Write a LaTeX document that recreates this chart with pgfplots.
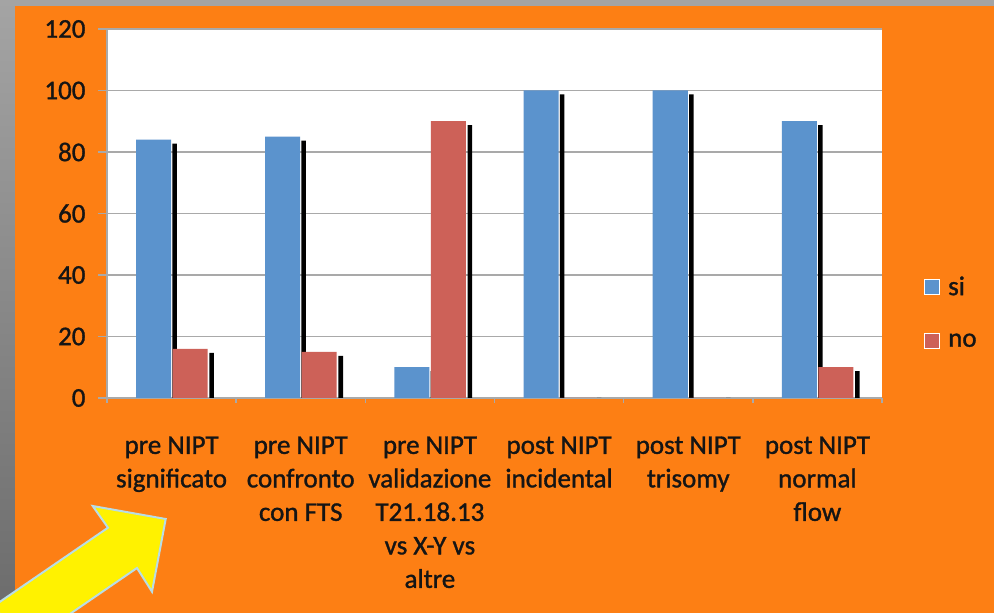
\documentclass[border=0pt]{standalone}
\usepackage{pgfplots}
\pgfplotsset{compat=1.18}
\usepackage{pgfplotstable}
\usepackage{fontspec}
\setmainfont[FakeBold=1.2]{Carlito}

\definecolor{panel}{HTML}{FD7F14}
\definecolor{siblue}{HTML}{5B93CD}
\definecolor{nored}{HTML}{CD6158}
\definecolor{gridgray}{HTML}{A9A9A9}
\definecolor{bgtop}{HTML}{A4A4A4}
\definecolor{bgbottom}{HTML}{6C6C6C}
\definecolor{arrowedge}{HTML}{B8DDE6}
\definecolor{labeltext}{HTML}{151515}

% survey answers (percent), one row per question
\pgfplotstableread{
x si no
0 84 16
1 85 15
2 10 90
3 100 0
4 100 0
5 90 10
}\survey

\begin{document}
\begin{tikzpicture}[x=1pt,y=1pt]
\path[use as bounding box] (0,0) rectangle (994,613);
% slide background
\shade[top color=bgtop, bottom color=bgbottom] (0,0) rectangle (994,613);
\fill[panel] (15,0) rectangle (994,607);
% yellow pointer arrow
\begin{scope}
\clip (0,0) rectangle (994,613);
\filldraw[fill=yellow, draw=arrowedge, line width=2pt, line join=miter]
  (-10,4.4) -- (108,85.3) -- (92.7,107) -- (165.7,94) -- (152,21.3)
  -- (137,45) -- (40,-21.5) -- cycle;
\end{scope}

\begin{axis}[
  at={(107pt,215pt)}, anchor=south west,
  scale only axis, width=775pt, height=369pt,
  xmin=-0.5, xmax=5.5, ymin=0, ymax=120,
  ytick={0,20,...,120},
  xtick={0,...,5},
  minor xtick={-0.5,0.5,...,5.5},
  xticklabels={{pre NIPT\\significato},{pre NIPT\\confronto\\con FTS},
    {pre NIPT\\validazione\\T21.18.13\\vs X-Y vs\\altre},
    {post NIPT\\incidental},{post NIPT\\trisomy},{post NIPT\\normal\\flow}},
  axis lines*=left,
  axis line style={-, gridgray, line width=1.5pt},
  axis background/.style={fill=white},
  ymajorgrids, grid style={gridgray, line width=1.5pt},
  tick align=outside, major tick length=9pt, minor tick length=5pt,
  tick style={gridgray, line width=1.5pt},
  major x tick style={draw=none},
  /pgf/number format/assume math mode=true,
  tick label style={font=\fontsize{27}{33.5}\selectfont, text=labeltext},
  yticklabel style={xshift=-9pt},
  xticklabel style={align=center, anchor=north, yshift=-26pt},
  legend style={at={(1,0.232)}, anchor=west, xshift=39pt, draw=none, fill=none,
    font=\fontsize{27}{33.5}\selectfont, text=labeltext, row sep=33pt,
    /tikz/every odd column/.append style={column sep=6pt}},
  legend cell align=left,
]
% drop shadows behind the bars
\addplot[ybar, bar width=4.5pt, bar shift=3pt, fill=black, draw=none,
  forget plot, y filter/.expression={y-1.3}] table[x=x, y=si]{\survey};
\addplot[ybar, bar width=35pt, bar shift=-18pt, fill=siblue, draw=none,
  legend image code/.code={\filldraw[fill=siblue, draw=white, line width=1pt]
    (0pt,-7.5pt) rectangle (15pt,7.5pt);}] table[x=x, y=si]{\survey};
\addlegendentry{si}
\addplot[ybar, bar width=4.5pt, bar shift=40pt, fill=black, draw=none,
  forget plot, y filter/.expression={y-1.3}] table[x=x, y=no]{\survey};
\addplot[ybar, bar width=35pt, bar shift=18.5pt, fill=nored, draw=none,
  legend image code/.code={\filldraw[fill=nored, draw=white, line width=1pt]
    (0pt,-7.5pt) rectangle (15pt,7.5pt);}] table[x=x, y=no]{\survey};
\addlegendentry{no}
\end{axis}
\end{tikzpicture}
\end{document}
